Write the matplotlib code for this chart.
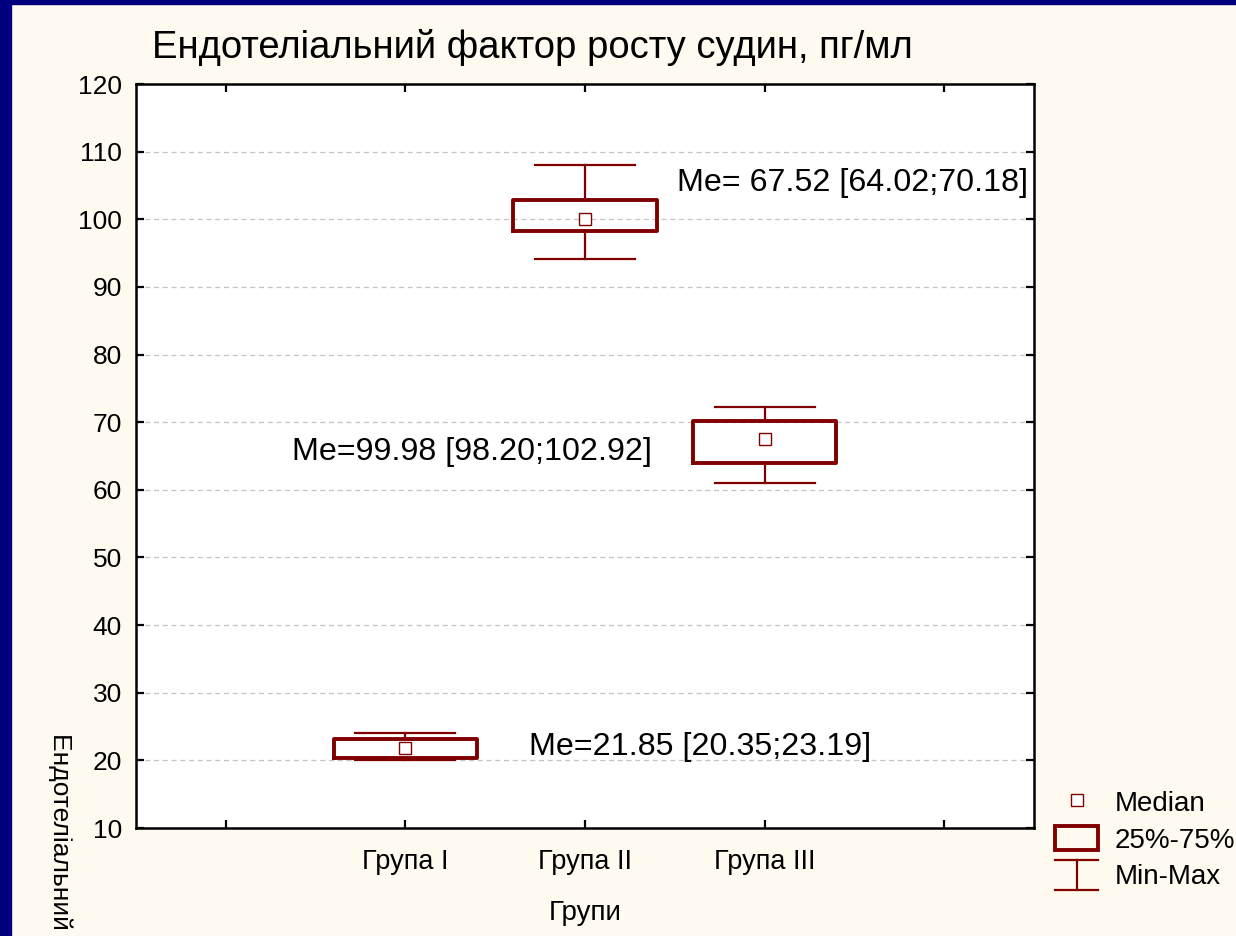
import numpy as np
import matplotlib
matplotlib.use("Agg")
import matplotlib.pyplot as plt
from matplotlib.patches import Rectangle, Patch
from matplotlib.lines import Line2D
from matplotlib.legend_handler import HandlerBase

plt.rcParams["font.family"] = ["Liberation Sans", "DejaVu Sans"]

# group summaries: median, quartiles, range (pg/ml)
groups = ["Група I", "Група II", "Група III"]
medians = [21.85, 99.98, 67.52]
q1 = [20.35, 98.20, 64.02]
q3 = [23.19, 102.92, 70.18]
mins = [20.1, 94.1, 61.0]
maxs = [24.0, 108.0, 72.2]
label_prefix = ["Me=", "Me=", "Me= "]

DARK_RED = "#800000"
CREAM = "#fffaef"
NAVY = "#00007f"

fig = plt.figure(figsize=(12.36, 9.36), dpi=100, facecolor=CREAM)
# navy frame strips on the left and top
fig.patches.append(Rectangle((0, 0), 11 / 1236, 1, transform=fig.transFigure,
                             color=NAVY, zorder=0))
fig.patches.append(Rectangle((0, 1 - 4 / 936), 1, 4 / 936, transform=fig.transFigure,
                             color=NAVY, zorder=0))

ax = fig.add_axes([136 / 1236, 1 - 828 / 936, 898 / 1236, 744 / 936])
ax.set_facecolor("white")

pos = np.arange(1, len(groups) + 1)
stats = [dict(med=m, q1=a, q3=b, whislo=lo, whishi=hi, fliers=[])
         for m, a, b, lo, hi in zip(medians, q1, q3, mins, maxs)]
ax.bxp(stats, positions=pos, widths=0.8, capwidths=0.556, showfliers=False,
       boxprops=dict(color=DARK_RED, linewidth=2.8),
       whiskerprops=dict(color=DARK_RED, linewidth=1.6),
       capprops=dict(color=DARK_RED, linewidth=1.6),
       medianprops=dict(visible=False), zorder=3)
ax.plot(pos, medians, ls="none", marker="s", ms=8, mfc="white",
        mec=DARK_RED, mew=1.0, zorder=4)

# median / quartile annotations
label_xy = [(1.69, 22.0), (0.37, 65.6), (2.51, 105.4)]
for i, (x, y) in enumerate(label_xy):
    ax.text(x, y, f"{label_prefix[i]}{medians[i]:.2f} [{q1[i]:.2f};{q3[i]:.2f}]",
            fontsize=23.2, ha="left", va="center", color="black", zorder=5)

ax.set_xlim(-0.5, 4.5)
ax.set_ylim(10, 120)
ax.set_yticks(np.arange(10, 121, 10))
ax.set_xticks(np.arange(0, 5))
ax.set_xticklabels([""] + groups + [""])
ax.yaxis.grid(True, ls=(0, (4, 3)), color="#c4c4c4", lw=0.9)
ax.set_axisbelow(True)
ax.tick_params(axis="both", direction="in", length=6, width=1.6,
               top=True, right=True, colors="black")
ax.tick_params(axis="y", labelsize=19, pad=10)
ax.tick_params(axis="x", labelsize=19.5, pad=15)
for s in ax.spines.values():
    s.set_linewidth(1.8)
    s.set_color("black")

ax.set_xlabel("Групи", fontsize=20, labelpad=18)

fig.text(152 / 1236, 1 - 47 / 936, "Ендотеліальний фактор росту судин, пг/мл",
         fontsize=27.5, ha="left", va="center")
fig.text(60 / 1236, 1 - 733 / 936, "Ендотеліальний фактор росту судин, пг/мл",
         fontsize=19, rotation=270, ha="center", va="top")


class MinMaxHandler(HandlerBase):
    def create_artists(self, legend, orig_handle, xdescent, ydescent,
                       width, height, fontsize, trans):
        x0, x1 = -xdescent, -xdescent + width
        y0, y1 = -ydescent - 2, -ydescent + height + 2
        xm = (x0 + x1) / 2
        segs = [([x0, x1], [y1, y1]), ([x0, x1], [y0, y0]), ([xm, xm], [y0, y1])]
        return [Line2D(xs, ys, color=DARK_RED, lw=1.6, transform=trans)
                for xs, ys in segs]


h_med = Line2D([], [], ls="none", marker="s", ms=8, mfc="white",
               mec=DARK_RED, mew=1.0)
h_box = Patch(facecolor="none", edgecolor=DARK_RED, linewidth=2.8)
h_rng = object()
leg = fig.legend([h_med, h_box, h_rng], ["Median", "25%-75%", "Min-Max"],
                 handler_map={object: MinMaxHandler()},
                 loc="upper left", bbox_to_anchor=(1055 / 1236, 1 - 789 / 936),
                 frameon=False, fontsize=20, handlelength=1.55,
                 handleheight=0.97, handletextpad=0.6, labelspacing=0.33,
                 borderpad=0, borderaxespad=0)

fig.savefig("out.png", dpi=100, facecolor=CREAM)
